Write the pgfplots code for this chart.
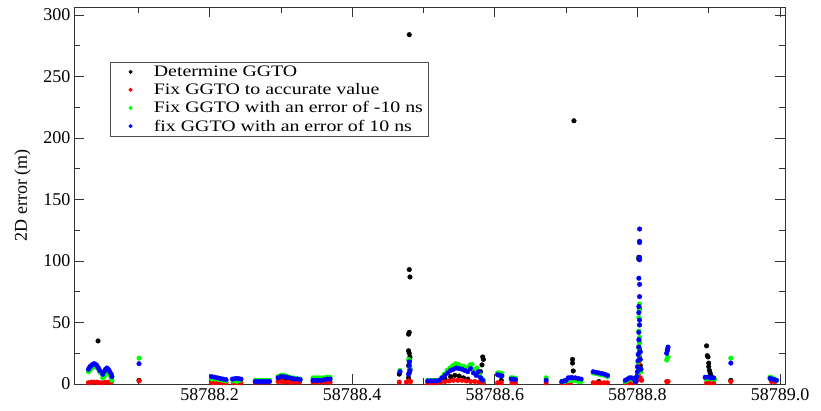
\documentclass[border=0pt]{standalone}
\usepackage{fontspec}
\setmainfont{Liberation Serif}
\newfontfamily\legfont[FakeStretch=1.24]{Liberation Serif}
\usepackage{pgfplots}
\pgfplotsset{compat=1.18}
\begin{document}
\begin{tikzpicture}
\useasboundingbox (-74pt,-27pt) rectangle (747pt,384pt);
\begin{axis}[
  scale only axis,
  width=711pt, height=377pt,
  xmin=0.0098, xmax=1.007,
  ymin=0, ymax=306.5,
  axis line style={line width=0.8pt, black!80},
  tick style={black!80, line width=0.8pt},
  tick align=inside,
  major tick length=10pt,
  minor tick length=6pt,
  xtick={0.2,0.4,0.6,0.8,1.0},
  xticklabels={58788.2,58788.4,58788.6,58788.8,58789.0},
  minor xtick={0.1,0.3,0.5,0.7,0.9},
  ytick={0,50,100,150,200,250,300},
  minor ytick={25,75,125,175,225,275},
  /pgf/number format/assume math mode=true,
  tick label style={font=\fontsize{18}{20}\selectfont},
  xticklabel style={yshift=-1pt},
  ylabel={2D error (m)},
  ylabel style={font=\fontsize{18}{19}\selectfont, yshift=6pt},
  legend style={at={(0.0506,0.854)}, anchor=north west, draw=black!70, line width=0.6pt,
    font=\legfont\fontsize{16}{16}\selectfont, row sep=3.5pt, inner xsep=4pt, inner ysep=2.5pt,
    nodes={inner sep=1pt}, legend cell align=left},
  legend image code/.code={\fill (16pt,0pt) circle (1.7pt); \path (0pt,0pt) (38pt,0pt);},
]
% Determine GGTO (black)
\addplot[only marks, mark=*, mark size=2.3pt, black] table {
x y
0.0435 35
0.034 13
0.040 14
0.046 10
0.054 11
0.060 8
0.101 3
0.205 4
0.215 3
0.238 3
0.300 5
0.306 4.5
0.312 4
0.320 3.5
0.355 3
0.466 8
0.480 284
0.480 93
0.481 87
0.480 42
0.479 40.5
0.479 27
0.480 25
0.481 22
0.480 19
0.479 15
0.481 12
0.480 9
0.479 5
0.530 4
0.538 6
0.544 7
0.550 6.5
0.556 5
0.562 4
0.583 22
0.584 20
0.582 15.5
0.580 10
0.578 7
0.609 3
0.709 20
0.709 17
0.710 10.6
0.708 5
0.711 214
0.746 2
0.800 8
0.801 18
0.802 103
0.802 101.5
0.803 61
0.804 15
0.803 28
0.897 31
0.898 23
0.899 22
0.900 17
0.900 14
0.901 11
0.902 9
0.903 7
0.905 5
0.931 3
0.990 3
};
\addlegendentry{Determine GGTO}
% Fix GGTO to accurate value (red)
\addplot[only marks, mark=*, mark size=2.3pt, red] table {
x y
0.030 1
0.034 1.5
0.038 1.5
0.042 1.5
0.046 1
0.050 1
0.054 1.5
0.058 1.5
0.062 1.5
0.101 2.5
0.203 1
0.208 1
0.213 1.5
0.218 1
0.223 1
0.233 1
0.239 1
0.244 1
0.264 1.5
0.270 1.5
0.276 1.5
0.282 1.5
0.296 2
0.301 2
0.306 1.5
0.311 1.5
0.316 1.5
0.321 1.5
0.326 1.5
0.345 1.5
0.351 1.5
0.357 1.5
0.363 1.5
0.369 1.5
0.466 1.5
0.476 1.5
0.479 2.5
0.482 2
0.506 1
0.512 1
0.518 1
0.524 1.5
0.530 2
0.536 2.5
0.542 3
0.548 3
0.554 3
0.560 2.5
0.566 2
0.572 2
0.578 1.5
0.584 1
0.604 1
0.609 1
0.624 1
0.629 1
0.672 1
0.694 1
0.700 1
0.706 1
0.738 1
0.743 1
0.748 1
0.753 1
0.758 1
0.783 1
0.788 1
0.793 1
0.797 1.5
0.800 3
0.801 8
0.802 12
0.802 17
0.803 22
0.803 26
0.802 30
0.803 34
0.804 5
0.806 3
0.841 2
0.843 2
0.897 1
0.902 1
0.907 1
0.931 2
0.988 2
0.993 2
};
\addlegendentry{Fix GGTO to accurate value}
% Fix GGTO with an error of -10 ns (green)
\addplot[only marks, mark=*, mark size=2.3pt, green] table {
x y
0.030 10
0.033 12
0.036 14
0.039 14.5
0.042 13.5
0.045 11
0.047 9
0.050 5
0.053 7
0.056 9
0.059 8
0.062 5
0.063 3
0.101 21
0.203 4
0.208 4
0.213 3.5
0.218 3
0.223 2.5
0.233 2.5
0.238 2
0.243 3
0.264 3
0.268 3
0.272 3
0.276 3
0.280 3
0.284 3
0.296 6
0.300 7
0.304 7
0.308 6.5
0.312 5.5
0.317 5
0.322 4.5
0.327 4
0.345 5
0.349 5
0.353 5
0.357 5
0.361 5
0.365 5.5
0.369 5.5
0.467 11
0.479 20
0.480 17
0.481 13
0.506 3
0.511 3
0.516 3
0.521 3
0.525 5
0.529 8
0.533 11
0.537 13
0.541 15
0.545 16.5
0.549 16
0.553 14.5
0.557 14
0.561 13
0.565 15.5
0.568 16
0.572 12
0.575 13
0.578 9
0.581 5
0.584 3
0.604 9
0.607 9
0.610 8.5
0.623 5
0.626 5
0.629 4.5
0.672 5
0.694 2
0.698 2
0.702 2.5
0.706 3
0.710 3
0.714 2.5
0.718 2
0.721 2
0.738 9
0.742 8.5
0.746 8
0.750 7.5
0.754 7
0.758 6
0.783 2
0.786 3
0.789 4
0.792 4
0.795 3
0.798 5
0.800 9
0.801 13
0.801 18
0.802 24
0.802 29
0.803 33
0.803 38
0.802 43
0.803 48
0.802 54
0.803 60
0.803 65
0.804 20
0.805 10
0.841 19.5
0.842 21
0.843 22
0.896 4
0.900 4.5
0.904 4
0.908 4
0.931 21
0.986 5.5
0.989 5
0.992 4
0.995 3
};
\addlegendentry{Fix GGTO with an error of -10 ns}
% fix GGTO with an error of 10 ns (blue)
\addplot[only marks, mark=*, mark size=2.3pt, blue] table {
x y
0.030 12
0.032 14
0.034 15
0.036 16
0.038 16.5
0.040 16
0.042 15
0.044 13
0.046 11
0.050 8
0.052 10
0.054 12
0.056 13
0.058 12
0.060 10
0.062 8
0.063 6
0.101 16.5
0.203 6
0.207 5.5
0.211 5
0.215 4.5
0.219 4
0.223 3.5
0.232 4
0.236 4.5
0.240 4.5
0.244 4
0.264 2
0.268 2
0.272 2
0.276 2
0.280 2
0.284 2
0.296 5
0.300 6
0.304 6
0.308 5.5
0.312 5
0.316 4.5
0.320 4
0.324 4
0.327 3.5
0.345 3
0.349 3
0.353 3
0.357 3
0.361 3.5
0.365 4
0.369 4
0.467 10
0.480 18
0.480 15
0.481 11
0.479 8
0.506 2.5
0.510 2.5
0.514 2.5
0.518 2.5
0.522 3
0.526 5
0.530 7
0.534 9
0.538 11
0.542 12
0.546 13
0.550 12.5
0.554 12
0.558 11
0.562 10
0.566 12.5
0.570 9
0.574 7
0.577 10
0.580 5
0.583 3
0.604 7.5
0.607 7
0.610 6.5
0.623 4
0.626 4
0.629 3.5
0.672 3
0.694 2
0.697 2.5
0.700 3
0.703 5
0.706 5
0.709 5
0.713 5
0.717 4.5
0.721 4
0.738 10
0.742 9.5
0.746 9
0.750 8.5
0.754 8
0.758 7
0.783 3
0.786 4
0.789 5
0.792 5
0.795 4
0.797 2
0.798 3
0.799 6
0.800 10
0.800 14
0.801 19
0.801 24
0.802 30
0.802 36
0.802 42
0.803 48
0.803 52
0.802 58
0.802 63
0.803 71
0.803 81
0.802 86
0.803 101
0.803 103
0.803 115
0.803 116
0.803 126
0.804 26
0.804 20
0.805 12
0.841 25
0.842 27
0.842 28
0.843 30
0.895 5.5
0.899 5.5
0.903 5
0.907 5
0.931 17
0.986 4.5
0.989 4
0.992 3.5
0.995 3
};
\addlegendentry{fix GGTO with an error of 10 ns}
\end{axis}
\end{tikzpicture}
\end{document}
